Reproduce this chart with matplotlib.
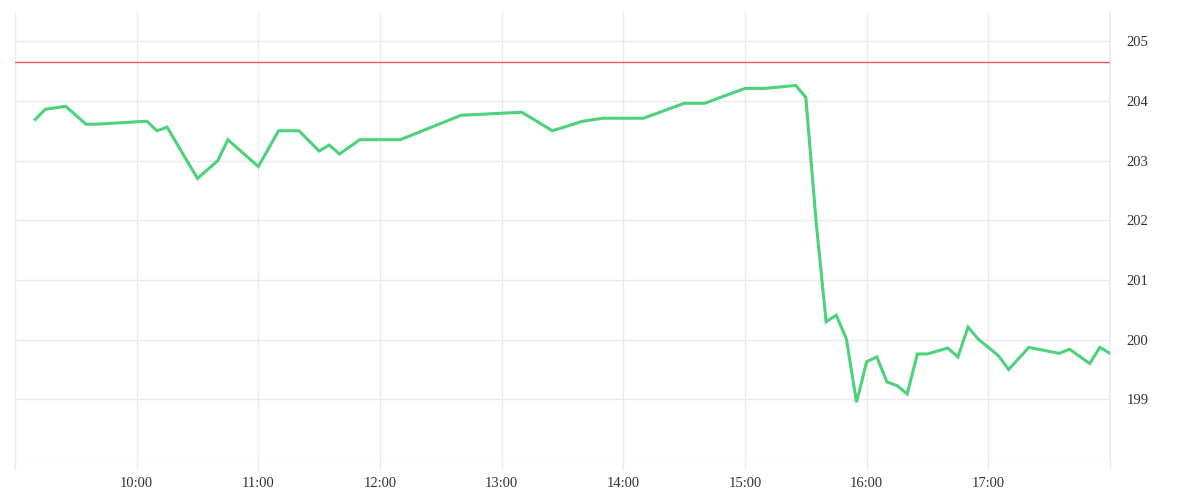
import matplotlib
matplotlib.use('Agg')
import matplotlib.pyplot as plt

# 时间点 (HH:MM) 与价格
times = ['9:10', '9:15', '9:25', '9:35', '9:40', '10:05', '10:10', '10:15', '10:30', '10:40',
         '10:45', '11:00', '11:10', '11:20', '11:30', '11:35', '11:40', '11:50', '12:10', '12:40',
         '13:10', '13:25', '13:40', '13:50', '14:10', '14:30', '14:40', '15:00', '15:10', '15:25',
         '15:30', '15:35', '15:40', '15:45', '15:50', '15:55', '16:00', '16:05', '16:10', '16:15',
         '16:20', '16:25', '16:30', '16:40', '16:45', '16:50', '16:55', '17:05', '17:10', '17:20',
         '17:35', '17:40', '17:50', '17:55', '18:00']
prices = [203.69, 203.86, 203.91, 203.61, 203.61, 203.66, 203.50, 203.56, 202.70, 203.00,
          203.35, 202.90, 203.50, 203.50, 203.16, 203.26, 203.11, 203.35, 203.35, 203.76,
          203.81, 203.50, 203.66, 203.71, 203.71, 203.96, 203.96, 204.21, 204.21, 204.26,
          204.06, 202.00, 200.30, 200.41, 200.01, 198.95, 199.63, 199.71, 199.29, 199.23,
          199.09, 199.76, 199.76, 199.86, 199.71, 200.21, 200.01, 199.73, 199.50, 199.87,
          199.77, 199.84, 199.60, 199.87, 199.77]
ref_price = 204.65  # 红色参考线

hour_ticks = list(range(9, 19))
hour_labels = ['' if h in (9, 18) else '%d:00' % h for h in hour_ticks]
price_ticks = [198, 199, 200, 201, 202, 203, 204, 205]
price_labels = ['' if p == 198 else str(p) for p in price_ticks]


def to_hours(s):
    h, m = s.split(':')
    return int(h) + int(m) / 60.0


x = [to_hours(t) for t in times]

plt.rcParams['font.family'] = ['Liberation Serif', 'DejaVu Serif']
grid_c = '#ebebeb'

fig = plt.figure(figsize=(12, 5), dpi=100)
ax = fig.add_axes([0.0125, 0.082, 0.9125, 0.894])

ax.axhline(ref_price, color='#f25757', lw=1.0, zorder=2)
ax.plot(x, prices, color='#4cd27a', lw=2.2, zorder=3, solid_joinstyle='miter')

ax.set_xlim(9, 18)
ax.set_ylim(198, 205.49)
ax.set_xticks(hour_ticks)
ax.set_xticklabels(hour_labels)
ax.set_yticks(price_ticks)
ax.set_yticklabels(price_labels)
ax.yaxis.tick_right()

ax.grid(True, color=grid_c, lw=1.0)
ax.axvline(18, color=grid_c, lw=1.2, zorder=0, clip_on=False)
ax.set_axisbelow(True)
for s in ax.spines.values():
    s.set_visible(False)

ax.tick_params(axis='x', length=8, color=grid_c, width=1.0, pad=5, labelsize=10.5, labelcolor='#333333')
ax.tick_params(axis='y', length=0, pad=12, labelsize=10.5, labelcolor='#333333')

fig.savefig('out.png', dpi=100, facecolor='white')
